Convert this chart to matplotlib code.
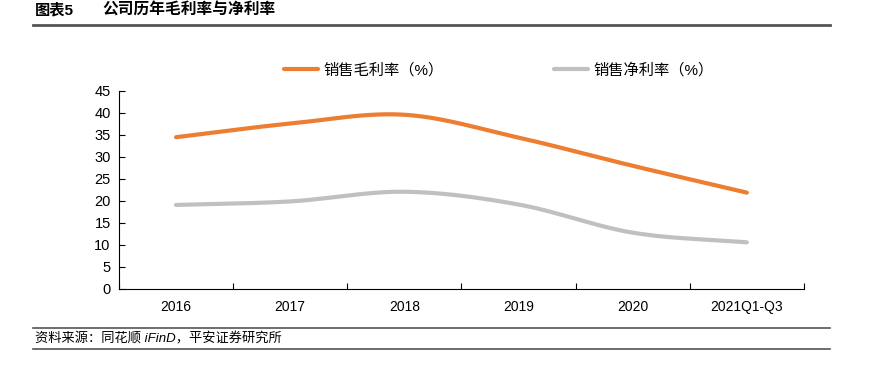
import matplotlib
matplotlib.use("Agg")
import matplotlib.pyplot as plt
import numpy as np

plt.rcParams['font.family'] = ['Liberation Sans', 'Noto Sans CJK SC', 'DejaVu Sans']

years = ["2016", "2017", "2018", "2019", "2020", "2021Q1-Q3"]
gross_margin = [34.5, 37.6, 39.6, 34.4, 28.0, 21.9]
net_margin = [19.1, 19.9, 22.1, 19.2, 12.8, 10.6]


def smooth(y, n=30):
    # catmull-rom curve through the points, like excel's smoothed line
    p = np.asarray(y, dtype=float)
    x = np.arange(len(p), dtype=float)
    px = np.concatenate([[2 * x[0] - x[1]], x, [2 * x[-1] - x[-2]]])
    py = np.concatenate([[2 * p[0] - p[1]], p, [2 * p[-1] - p[-2]]])
    xs, ys = [], []
    for i in range(1, len(px) - 2):
        t = np.linspace(0, 1, n, endpoint=(i == len(px) - 3))
        for arr, out in ((px, xs), (py, ys)):
            p0, p1, p2, p3 = arr[i - 1], arr[i], arr[i + 1], arr[i + 2]
            out.extend(0.5 * (2 * p1 + (-p0 + p2) * t
                              + (2 * p0 - 5 * p1 + 4 * p2 - p3) * t ** 2
                              + (-p0 + 3 * p1 - 3 * p2 + p3) * t ** 3))
    return np.array(xs), np.array(ys)


fig = plt.figure(figsize=(8.71, 3.66), dpi=100)
ax = fig.add_axes([0.1366, 0.2104, 0.7864, 0.541])

orange = "#ED7D31"
grey = "#C0C0C0"
gx, gy = smooth(gross_margin)
nx, ny = smooth(net_margin)
ax.plot(gx, gy, color=orange, lw=3, solid_capstyle="round", label="销售毛利率（%）")
ax.plot(nx, ny, color=grey, lw=3, solid_capstyle="round", label="销售净利率（%）")

ax.set_xlim(-0.5, len(years) - 0.5)
ax.set_ylim(0, 45)
ax.set_yticks(range(0, 50, 5))
ax.set_xticks(np.arange(-0.5, len(years), 1.0))
ax.set_xticklabels([])
ax.set_xticks(range(len(years)), minor=True)
ax.set_xticklabels(years, minor=True)
ax.tick_params(axis="x", which="major", direction="in", length=4, width=0.8)
ax.tick_params(axis="x", which="minor", length=0, labelsize=10, pad=8)
ax.tick_params(axis="y", direction="in", length=4, width=0.8, labelsize=10.5, pad=6)
for s in ["top", "right"]:
    ax.spines[s].set_visible(False)

ax.legend(loc="lower center", bbox_to_anchor=(0.555, 1.0), ncol=2, frameon=False,
          fontsize=11, handlelength=2.2, handletextpad=0.4, columnspacing=7.2)

fig.text(0.040, 0.972, "图表5", fontsize=11, fontweight="bold", va="center")
fig.text(0.117, 0.972, "公司历年毛利率与净利率", fontsize=11.3, fontweight="bold", va="center")
fig.add_artist(plt.Line2D([0.038, 0.953], [0.933, 0.933], color="#555555", lw=2))
fig.add_artist(plt.Line2D([0.038, 0.953], [0.104, 0.104], color="#555555", lw=1.2))
fig.add_artist(plt.Line2D([0.038, 0.953], [0.046, 0.046], color="#555555", lw=1.2))
fig.text(0.040, 0.075, "资料来源：同花顺 iFinD，平安证券研究所", fontsize=9.5,
         style="italic", va="center")

fig.savefig("out.png", dpi=100)
